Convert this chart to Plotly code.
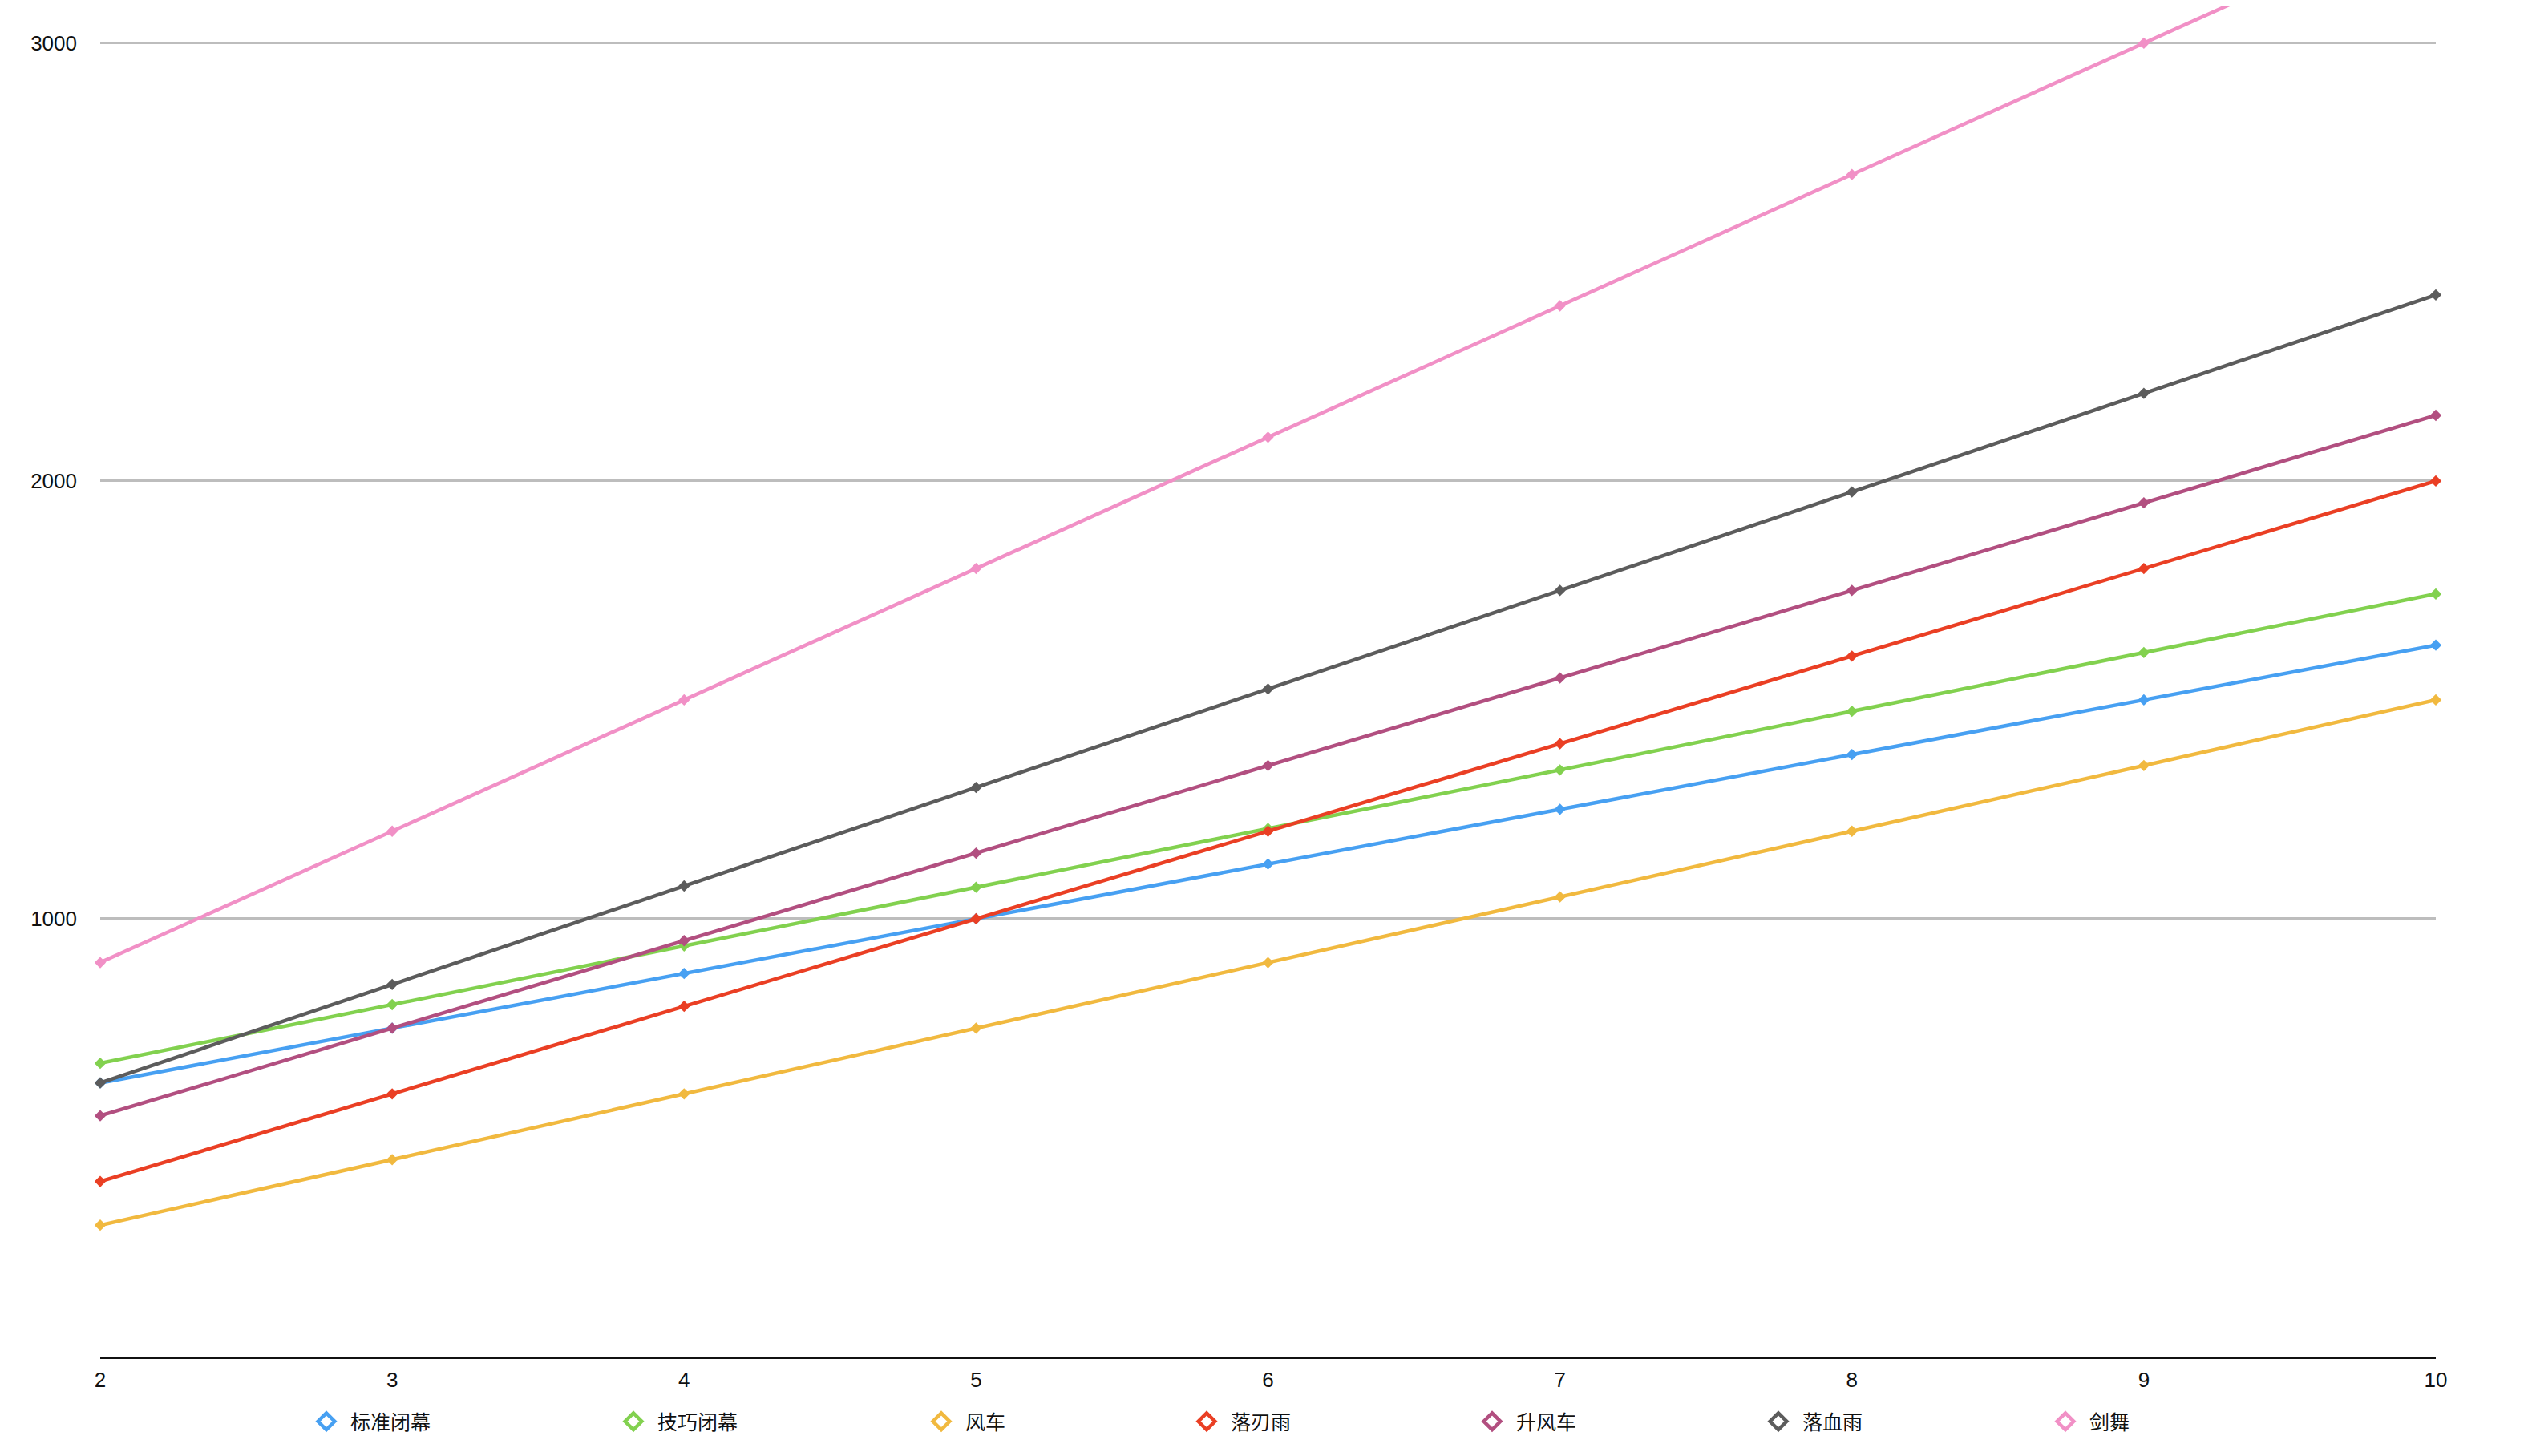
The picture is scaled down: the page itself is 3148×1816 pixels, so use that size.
import plotly.graph_objects as go

levels = [2, 3, 4, 5, 6, 7, 8, 9, 10]
series_names = ["标准闭幕", "技巧闭幕", "风车", "落刃雨", "升风车", "落血雨", "剑舞"]
standard_close = [625, 750, 875, 1000, 1125, 1250, 1375, 1500, 1625]
skill_close = [670, 804, 938, 1072, 1206, 1340, 1474, 1608, 1742]
windmill = [300, 450, 600, 750, 900, 1050, 1200, 1350, 1500]
blade_rain = [400, 600, 800, 1000, 1200, 1400, 1600, 1800, 2000]
rising_windmill = [550, 750, 950, 1150, 1350, 1550, 1750, 1950, 2150]
blood_rain = [625, 850, 1075, 1300, 1525, 1750, 1975, 2200, 2425]
sword_dance = [900, 1200, 1500, 1800, 2100, 2400, 2700, 3000, 3300]
y_ticks = [1000, 2000, 3000]

series_values = [standard_close, skill_close, windmill, blade_rain,
                 rising_windmill, blood_rain, sword_dance]
colors = ["#47A0F2", "#82D14F", "#F1B93F", "#EA3F24", "#B24F80", "#5C5C5C", "#F190C6"]

# page has an 8px body margin; figure sized to fit the viewport
OFF = 8
W, H = 3148 - OFF, 1816 - OFF
ML, MR, MT, MB = 125 - OFF, 110, 0, 124
PW, PH = W - ML - MR, H - MT - MB
legend_centers = [407, 790, 1174, 1505, 1861, 2218, 2576]  # page px
legend_y_px = 1773  # page px

FONT = "Liberation Sans, Arial, Noto Sans CJK SC, sans-serif"

fig = go.Figure()
for name, vals, col in zip(series_names, series_values, colors):
    fig.add_trace(go.Scatter(
        x=levels, y=vals, mode="lines+markers", name=name,
        line=dict(color=col, width=4.5),
        marker=dict(symbol="diamond", size=11, color=col),
        showlegend=False, cliponaxis=False, hoverinfo="x+y+name"))

layout_legends = {}
for i, (name, col, cx) in enumerate(zip(series_names, colors, legend_centers)):
    key = "legend" if i == 0 else f"legend{i+1}"
    fig.add_trace(go.Scatter(
        x=[None], y=[None], mode="markers", name=name,
        marker=dict(symbol="diamond-open", size=16, color=col, line=dict(width=4.5, color=col)),
        showlegend=True, legend=key))
    layout_legends[key] = dict(
        x=(cx - OFF - 30 - ML) / PW, xanchor="left",
        y=(MT + PH - (legend_y_px - OFF)) / PH, yanchor="middle",
        orientation="h", itemwidth=50, bgcolor="rgba(0,0,0,0)",
        font=dict(family=FONT, size=25, color="#111111"),
        borderwidth=0, tracegroupgap=0)

fig.update_layout(
    width=W, height=H,
    margin=dict(l=ML, r=MR, t=MT, b=MB, pad=0),
    paper_bgcolor="white", plot_bgcolor="white",
    font=dict(family=FONT, size=26, color="#111111"),
    xaxis=dict(range=[2, 10], tickvals=levels, showgrid=False, zeroline=False,
               showline=True, linecolor="#111111", linewidth=3,
               ticks="", ticklabelstandoff=4,
               tickfont=dict(family=FONT, size=26, color="#111111")),
    yaxis=dict(range=[0, 3084], tickvals=y_ticks, showgrid=True,
               gridcolor="#BDBDBD", gridwidth=2.5, zeroline=False, showline=False,
               ticks="", ticklabelstandoff=28,
               tickfont=dict(family=FONT, size=26, color="#111111")),
    **layout_legends,
)

fig.write_html("out.html")
